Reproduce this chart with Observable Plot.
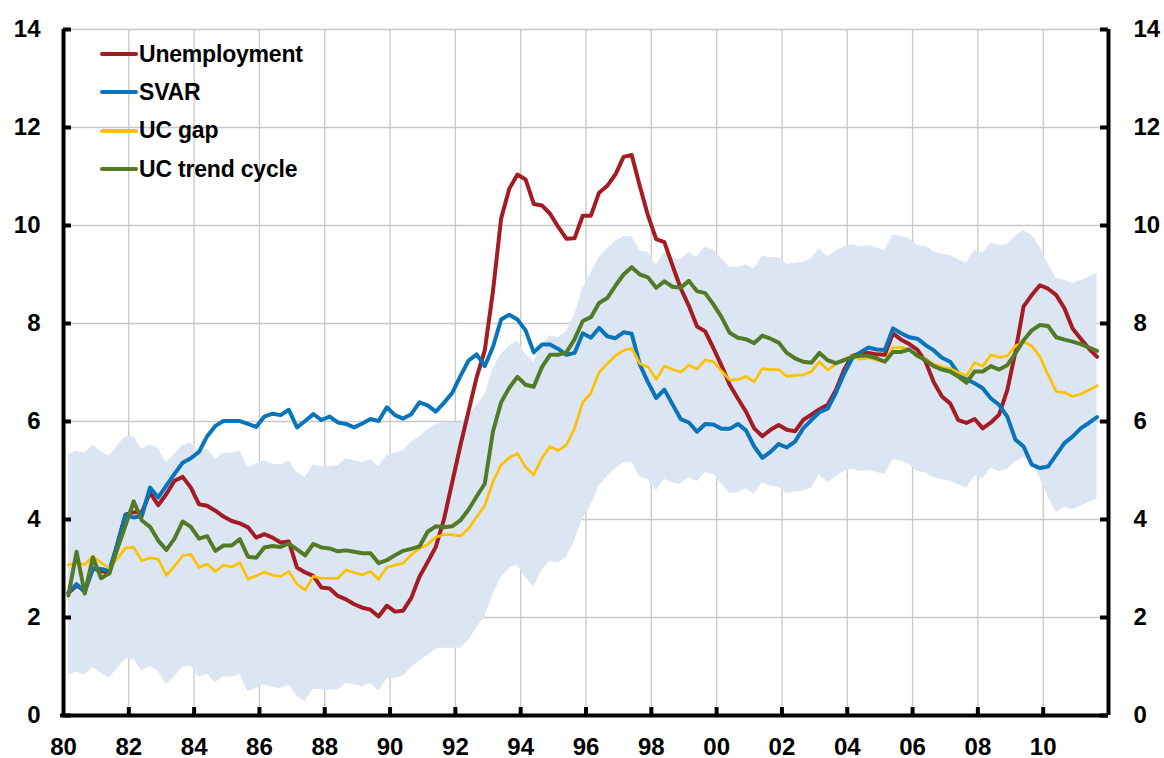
<!DOCTYPE html>
<html><head><meta charset="utf-8">
<script src="https://cdn.jsdelivr.net/npm/d3@7"></script>
<script src="https://cdn.jsdelivr.net/npm/@observablehq/plot@0.6"></script>
<style>
body{margin:0;background:#fff;}
#wrap{position:relative;width:1164px;height:758px;font-family:"Liberation Sans",Arial,sans-serif;}
#legend{position:absolute;left:100px;top:35px;}
.item{display:flex;align-items:center;height:38.3px;font-weight:bold;font-size:23px;color:#000;letter-spacing:-0.2px;}
.item svg{width:38px;height:8px;margin-right:1px;}
</style></head><body><div id="wrap"><div id="legend"></div></div>
<script>
// Quarterly data, 1980Q1 - 2011Q3
const firstYear = 1980;
const unemployment = [
2.5,2.65,2.55,3.0,2.95,2.9,3.5,4.1,
4.15,4.15,4.55,4.29,4.52,4.79,4.87,4.65,4.31,4.28,4.18,4.06,3.97,3.92,
3.84,3.63,3.7,3.63,3.53,3.55,3.02,2.92,2.85,2.61,2.59,2.44,2.37,2.27,2.2,2.16,2.02,2.24,2.12,2.14,2.4,
2.83,3.13,3.44,4.0,4.75,5.5,6.2,6.9,7.45,8.65,10.14,10.75,11.04,10.94,10.44,10.41,10.24,9.97,9.73,9.74,10.2,
10.2,10.67,10.81,11.04,11.4,11.44,10.8,10.2,9.72,9.66,9.18,8.72,8.36,7.94,7.84,7.5,7.14,6.75,6.47,6.2,5.86,5.7,
5.83,5.93,5.83,5.8,6.03,6.14,6.25,6.34,6.64,7.05,7.34,7.39,7.4,7.37,7.36,7.8,7.67,7.58,7.46,7.22,6.8,
6.51,6.37,6.03,5.97,6.05,5.86,5.98,6.14,6.64,7.42,8.35,8.58,8.78,8.71,8.58,8.31,7.9,7.69,7.49,7.32];
const svar = [
2.51,2.68,2.52,3.0,2.99,2.95,3.5,4.1,
4.04,4.07,4.65,4.45,4.69,4.93,5.16,5.25,5.38,5.7,5.91,6.01,6.01,6.01,
5.95,5.89,6.1,6.16,6.13,6.24,5.88,6.01,6.15,6.03,6.1,5.98,5.95,5.88,5.96,6.05,6.01,6.29,6.13,6.06,6.15,
6.39,6.33,6.2,6.38,6.58,6.92,7.24,7.37,7.13,7.52,8.08,8.18,8.08,7.86,7.41,7.57,7.57,7.48,7.36,7.4,7.8,
7.71,7.91,7.74,7.7,7.82,7.79,7.16,6.8,6.48,6.65,6.35,6.05,5.98,5.79,5.95,5.94,5.85,5.85,5.95,5.82,5.49,5.26,
5.38,5.54,5.47,5.59,5.86,6.03,6.19,6.26,6.58,6.97,7.29,7.41,7.51,7.47,7.46,7.9,7.8,7.72,7.69,7.56,7.45,
7.3,7.22,6.98,6.86,6.78,6.68,6.47,6.34,6.1,5.63,5.49,5.12,5.05,5.08,5.32,5.56,5.69,5.86,5.97,6.09];
const ucGap = [
3.07,3.12,3.08,3.25,3.12,3.0,3.2,3.42,
3.43,3.16,3.22,3.19,2.86,3.05,3.26,3.29,3.02,3.09,2.94,3.07,3.03,3.12,
2.78,2.85,2.93,2.86,2.84,2.94,2.68,2.56,2.84,2.8,2.8,2.8,2.97,2.92,2.87,2.94,2.78,3.02,3.07,3.11,3.28,
3.41,3.49,3.64,3.69,3.69,3.66,3.81,4.05,4.28,4.77,5.11,5.26,5.35,5.07,4.91,5.25,5.49,5.41,5.52,5.86,6.39,
6.58,7.0,7.18,7.34,7.45,7.49,7.18,7.11,6.86,7.13,7.06,7.01,7.15,7.07,7.26,7.22,7.03,6.85,6.85,6.92,6.81,7.08,
7.06,7.06,6.92,6.94,6.95,7.02,7.22,7.05,7.17,7.27,7.34,7.27,7.3,7.25,7.22,7.51,7.51,7.49,7.32,7.29,7.17,
7.12,7.08,7.0,6.93,7.2,7.13,7.36,7.31,7.34,7.54,7.63,7.54,7.32,6.95,6.61,6.59,6.51,6.56,6.64,6.73];
const ucTrendCycle = [
2.45,3.34,2.49,3.23,2.8,2.9,3.4,3.88,
4.37,3.98,3.85,3.57,3.38,3.61,3.96,3.85,3.61,3.66,3.36,3.47,3.47,3.6,
3.24,3.22,3.43,3.46,3.44,3.51,3.39,3.27,3.5,3.43,3.41,3.35,3.37,3.34,3.31,3.31,3.11,3.17,3.27,3.36,3.4,
3.45,3.75,3.86,3.84,3.86,3.98,4.2,4.47,4.73,5.79,6.39,6.69,6.91,6.75,6.71,7.11,7.36,7.36,7.41,7.68,8.05,
8.13,8.42,8.52,8.77,9.0,9.15,9.0,8.94,8.73,8.86,8.75,8.73,8.87,8.66,8.62,8.39,8.13,7.81,7.71,7.68,7.6,7.75,
7.69,7.61,7.4,7.29,7.22,7.2,7.4,7.25,7.19,7.25,7.32,7.34,7.34,7.29,7.22,7.42,7.42,7.47,7.34,7.25,7.13,
7.06,7.02,6.92,6.79,7.02,7.02,7.13,7.06,7.15,7.39,7.66,7.86,7.97,7.95,7.72,7.67,7.63,7.58,7.51,7.44];
const bandUpper = [
5.33,5.4,5.35,5.52,5.38,5.29,5.5,5.69,
5.69,5.44,5.52,5.45,5.16,5.33,5.52,5.56,5.37,5.44,5.23,5.35,5.35,5.4,
5.06,5.13,5.2,5.13,5.11,5.2,4.96,4.86,5.11,5.08,5.08,5.1,5.24,5.2,5.16,5.23,5.08,5.3,5.35,5.4,5.58,
5.68,5.83,5.94,5.98,5.98,5.98,6.11,6.33,6.54,7.07,7.37,7.54,7.64,7.37,7.21,7.56,7.75,7.71,7.83,8.17,8.73,
9.03,9.34,9.52,9.68,9.77,9.77,9.49,9.45,9.18,9.45,9.34,9.3,9.45,9.35,9.56,9.5,9.32,9.15,9.15,9.2,9.11,9.38,
9.34,9.34,9.21,9.23,9.25,9.32,9.53,9.36,9.48,9.56,9.61,9.56,9.59,9.54,9.49,9.8,9.78,9.73,9.59,9.57,9.46,
9.42,9.39,9.3,9.23,9.49,9.44,9.64,9.59,9.61,9.78,9.9,9.8,9.56,9.22,8.92,8.89,8.81,8.88,8.95,9.03];
const bandLower = [
0.82,0.89,0.82,0.98,0.86,0.76,0.96,1.15,
1.15,0.91,1.0,0.91,0.62,0.79,0.98,1.01,0.78,0.84,0.67,0.79,0.78,0.84,
0.48,0.55,0.62,0.57,0.55,0.62,0.4,0.28,0.54,0.52,0.52,0.52,0.66,0.62,0.59,0.66,0.5,0.74,0.76,0.8,0.98,
1.11,1.22,1.35,1.37,1.37,1.37,1.52,1.79,2.01,2.47,2.81,3.0,3.07,2.81,2.62,2.96,3.15,3.11,3.22,3.56,4.02,
4.28,4.69,4.88,5.03,5.15,5.17,4.88,4.81,4.58,4.82,4.75,4.72,4.85,4.77,4.96,4.92,4.73,4.54,4.54,4.62,4.52,4.75,
4.68,4.66,4.53,4.56,4.58,4.64,4.92,4.75,4.87,4.98,5.03,4.98,5.0,4.96,4.92,5.22,5.19,5.12,4.98,4.95,4.85,
4.81,4.78,4.71,4.64,4.88,4.83,5.05,4.98,5.02,5.17,5.27,5.15,4.85,4.47,4.14,4.26,4.2,4.27,4.34,4.42];

const seriesNames = ["Unemployment","SVAR","UC gap","UC trend cycle"];
const seriesColors = ["#A51B23","#0A74BA","#FFC000","#527A27"];
const yTicks = [0,2,4,6,8,10,12,14];
const xTicks = [1980,1982,1984,1986,1988,1990,1992,1994,1996,1998,2000,2002,2004,2006,2008,2010];
const xTickLabels = ["80","82","84","86","88","90","92","94","96","98","00","02","04","06","08","10"];
const xDomain = [1980, 2012];
const yDomain = [0, 14];

// quarter i plotted at mid-quarter position
const rows = unemployment.map((u, i) => ({
  t: firstYear + 0.15 + i / 4,
  u, s: svar[i], g: ucGap[i], c: ucTrendCycle[i], hi: bandUpper[i], lo: bandLower[i]
}));

const grid = "#C8C8C8";
const bold = {fontSize: 24, fontWeight: "bold", fill: "#000"};

const chart = Plot.plot({
  width: 1164, height: 758,
  marginLeft: 63, marginRight: 56, marginTop: 29, marginBottom: 43,
  x: {domain: xDomain, axis: null},
  y: {domain: yDomain, axis: null},
  style: {fontFamily: "'Liberation Sans', Arial, sans-serif", background: "white", overflow: "visible"},
  marks: [
    Plot.ruleY(yTicks.filter(d => d > 0), {stroke: grid, strokeWidth: 1.3}),
    Plot.ruleX(xTicks.filter(d => d > xDomain[0]), {stroke: grid, strokeWidth: 1.3}),
    Plot.areaY(rows, {x: "t", y1: "lo", y2: "hi", fill: "#DCE6F2"}),
    Plot.line(rows, {x: "t", y: "u", stroke: seriesColors[0], strokeWidth: 4, strokeLinejoin: "round"}),
    Plot.line(rows, {x: "t", y: "s", stroke: seriesColors[1], strokeWidth: 4, strokeLinejoin: "round"}),
    Plot.line(rows, {x: "t", y: "g", stroke: seriesColors[2], strokeWidth: 2.7, strokeLinejoin: "round"}),
    Plot.line(rows, {x: "t", y: "c", stroke: seriesColors[3], strokeWidth: 4, strokeLinejoin: "round"}),
    // axis lines
    Plot.ruleX([xDomain[0]], {stroke: "#000", strokeWidth: 4}),
    Plot.ruleX([xDomain[1]], {stroke: "#000", strokeWidth: 4}),
    Plot.ruleY([yDomain[0]], {stroke: "#000", strokeWidth: 4, insetLeft: -3}),
    // inward ticks
    Plot.ruleY(yTicks, {x1: xDomain[0], x2: xDomain[0], insetRight: -8, stroke: "#000", strokeWidth: 4}),
    Plot.ruleY(yTicks, {x1: xDomain[1], x2: xDomain[1], insetLeft: -8, stroke: "#000", strokeWidth: 4}),
    Plot.ruleX(xTicks.filter(d => d > xDomain[0]), {y1: yDomain[0], y2: yDomain[0], insetBottom: 8, stroke: "#000", strokeWidth: 4}),
    // tick labels
    Plot.text(yTicks, {x: xDomain[0], y: d => d, text: d => String(d), textAnchor: "end", dx: -23, ...bold}),
    Plot.text(yTicks, {x: xDomain[1], y: d => d, text: d => String(d), textAnchor: "start", dx: 25, ...bold}),
    Plot.text(xTicks, {x: d => d, y: yDomain[0], text: (d, i) => xTickLabels[i], dy: 32, ...bold})
  ]
});
document.getElementById("wrap").prepend(chart);
chart.style.position = "absolute"; chart.style.left = "0"; chart.style.top = "0";

const legend = document.getElementById("legend");
seriesNames.forEach((name, i) => {
  const item = document.createElement("div");
  item.className = "item";
  item.innerHTML = `<svg viewBox="0 0 38 8"><line x1="2" y1="4" x2="36" y2="4" stroke="${seriesColors[i]}" stroke-width="4" stroke-linecap="round"/></svg><span>${name}</span>`;
  legend.appendChild(item);
});
</script></body></html>
